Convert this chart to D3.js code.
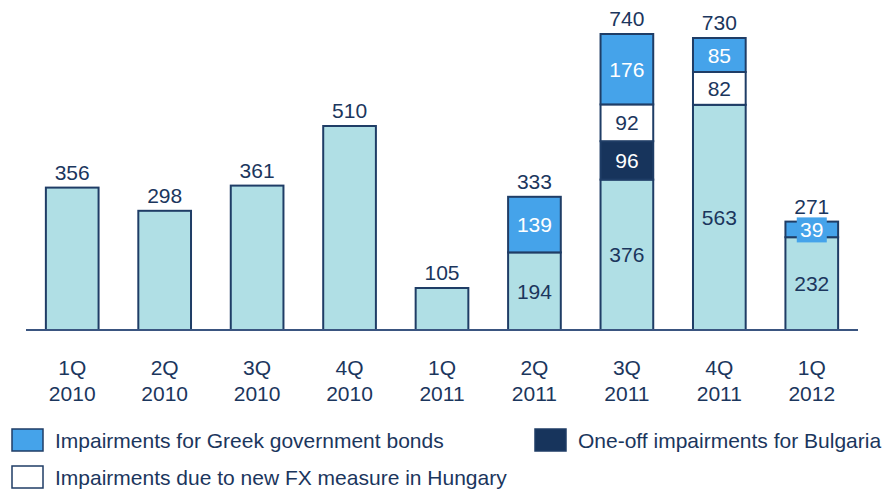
<!DOCTYPE html>
<html>
<head>
<meta charset="utf-8">
<script src="https://cdn.jsdelivr.net/npm/d3@7"></script>
<style>
  body { margin: 0; background: #fff; }
  text { font-family: "Liberation Sans", Arial, sans-serif; }
</style>
</head>
<body>
<svg width="886" height="490"></svg>
<script>
const quarters = ['1Q', '2Q', '3Q', '4Q', '1Q', '2Q', '3Q', '4Q', '1Q'];
const years = ['2010', '2010', '2010', '2010', '2011', '2011', '2011', '2011', '2012'];
const base = [356, 298, 361, 510, 105, 194, 376, 563, 232];
const bulgaria = [0, 0, 0, 0, 0, 0, 96, 0, 0];
const hungary = [0, 0, 0, 0, 0, 0, 92, 82, 0];
const greek = [0, 0, 0, 0, 0, 139, 176, 85, 39];

const keys = ['base', 'bulgaria', 'hungary', 'greek'];
const fills = { base: '#b0dfe5', bulgaria: '#17345c', hungary: '#ffffff', greek: '#45a3ea' };
const textFill = { base: '#1b365d', bulgaria: '#ffffff', hungary: '#1b365d', greek: '#ffffff' };
const ink = '#1b365d';
const stroke = '#1f3d66';
const fs = 21;

const svg = d3.select('svg');

const data = quarters.map((q, i) => ({
  key: i,
  base: base[i],
  bulgaria: bulgaria[i],
  hungary: hungary[i],
  greek: greek[i],
}));
data.forEach((d) => { d.total = keys.reduce((s, k) => s + d[k], 0); });

const baseline = 330;
const x = d3.scaleBand()
  .domain(d3.range(data.length))
  .range([26, 858])
  .paddingInner(0.43)
  .paddingOuter(0.215);

const y = d3.scaleLinear()
  .domain([0, 740])
  .range([baseline, 34]);

const series = d3.stack().keys(keys)(data);

const g = svg.append('g');

series.forEach((s) => {
  const k = s.key;
  g.selectAll('rect.' + k)
    .data(s.filter((d) => d[1] - d[0] > 0))
    .enter()
    .append('rect')
    .attr('class', k)
    .attr('x', (d) => x(d.data.key))
    .attr('y', (d) => y(d[1]))
    .attr('width', x.bandwidth())
    .attr('height', (d) => y(d[0]) - y(d[1]))
    .attr('fill', fills[k])
    .attr('stroke', stroke)
    .attr('stroke-width', 2);
});

// segment labels for stacked bars
series.forEach((s) => {
  const k = s.key;
  const segs = s.filter((d) => d[1] - d[0] > 0 && d.data.total !== d.data.base);
  segs.forEach((d) => {
    const cx = x(d.data.key) + x.bandwidth() / 2;
    const cy = (y(d[0]) + y(d[1])) / 2;
    const h = y(d[0]) - y(d[1]);
    if (h < 22) {
      g.append('rect')
        .attr('x', cx - 15)
        .attr('y', cy - 12)
        .attr('width', 30)
        .attr('height', 25)
        .attr('fill', fills[k]);
    }
    g.append('text')
      .attr('x', cx)
      .attr('y', cy)
      .attr('dy', '0.36em')
      .attr('text-anchor', 'middle')
      .attr('font-size', fs)
      .attr('fill', textFill[k])
      .text(d[1] - d[0]);
  });
});

// totals
g.selectAll('text.total')
  .data(data)
  .enter()
  .append('text')
  .attr('class', 'total')
  .attr('x', (d) => x(d.key) + x.bandwidth() / 2)
  .attr('y', (d) => y(d.total) - 8)
  .attr('text-anchor', 'middle')
  .attr('font-size', fs)
  .attr('fill', ink)
  .text((d) => d.total);

// axis line
svg.append('line')
  .attr('x1', 26).attr('x2', 858)
  .attr('y1', baseline).attr('y2', baseline)
  .attr('stroke', '#3a5580')
  .attr('stroke-width', 2);

// category labels
const xl = svg.append('g');
data.forEach((d, i) => {
  const cx = x(i) + x.bandwidth() / 2;
  xl.append('text').attr('x', cx).attr('y', 367).attr('dy', '0.36em')
    .attr('text-anchor', 'middle').attr('font-size', fs).attr('fill', ink)
    .text(quarters[i]);
  xl.append('text').attr('x', cx).attr('y', 393).attr('dy', '0.36em')
    .attr('text-anchor', 'middle').attr('font-size', fs).attr('fill', ink)
    .text(years[i]);
});

// legend
const legend = [
  { k: 'greek', label: 'Impairments for Greek government bonds', x: 12, y: 429 },
  { k: 'bulgaria', label: 'One-off impairments for Bulgaria', x: 535, y: 429 },
  { k: 'hungary', label: 'Impairments due to new FX measure in Hungary', x: 12, y: 466 },
];
const lg = svg.append('g');
legend.forEach((l) => {
  lg.append('rect')
    .attr('x', l.x).attr('y', l.y)
    .attr('width', 31).attr('height', 22)
    .attr('fill', fills[l.k])
    .attr('stroke', stroke).attr('stroke-width', 1.5);
  lg.append('text')
    .attr('x', l.x + 43).attr('y', l.y + 11)
    .attr('dy', '0.36em')
    .attr('font-size', fs)
    .attr('fill', ink)
    .text(l.label);
});
</script>
</body>
</html>
